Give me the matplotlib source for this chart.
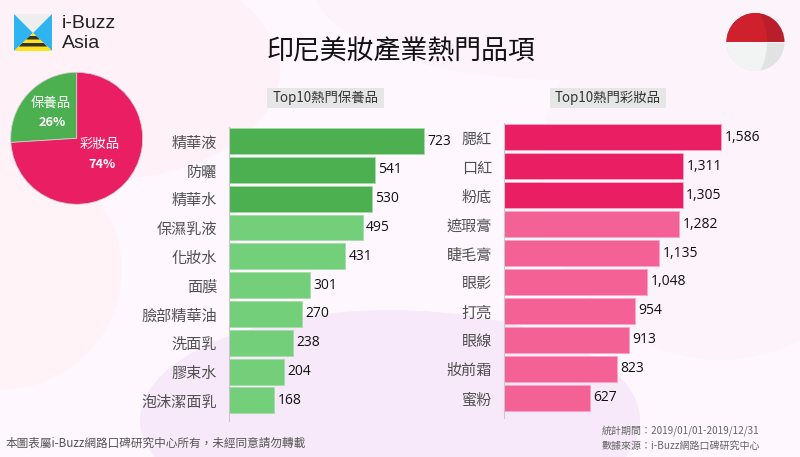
import matplotlib
matplotlib.use('Agg')
import matplotlib.pyplot as plt
from matplotlib.patches import Circle, Ellipse, Polygon, Rectangle, Wedge

plt.rcParams['font.family'] = ['Noto Sans CJK TC', 'DejaVu Sans']

# data
skin_names = ['精華液', '防曬', '精華水', '保濕乳液', '化妝水', '面膜', '臉部精華油', '洗面乳', '膠束水', '泡沫潔面乳']
skin_values = [723, 541, 530, 495, 431, 301, 270, 238, 204, 168]
makeup_names = ['腮紅', '口紅', '粉底', '遮瑕膏', '睫毛膏', '眼影', '打亮', '眼線', '妝前霜', '蜜粉']
makeup_values = [1586, 1311, 1305, 1282, 1135, 1048, 954, 913, 823, 627]
share_names = ['保養品', '彩妝品']
share_values = [26, 74]

GREEN = '#4caf50'
LIGHT_GREEN = '#74cf7a'
PINK = '#e91e63'
LIGHT_PINK = '#f46195'
W, H = 800, 457

fig = plt.figure(figsize=(W / 100, H / 100), dpi=100, facecolor='#fef8fe')


def axes_px(x0, y0, x1, y1, **kw):
    # pixel box with y counted from the top, like the picture
    return fig.add_axes([x0 / W, 1 - y1 / H, (x1 - x0) / W, (y1 - y0) / H], **kw)


def overlay():
    ax = axes_px(0, 0, W, H)
    ax.set_xlim(0, W)
    ax.set_ylim(H, 0)
    ax.axis('off')
    return ax


# background and decoration
bg = overlay()
bg.add_patch(Ellipse((100, 70), 360, 220, color='#fff1f8', lw=0))
bg.add_patch(Ellipse((0, 270), 244, 240, color='#fff3f8', lw=0))
bg.add_patch(Ellipse((560, -20), 500, 200, color='#fdf3fb', lw=0))
bg.add_patch(Ellipse((720, 170), 360, 380, color='#fdf3fb', lw=0))
bg.add_patch(Ellipse((390, 420), 500, 220, color='#f7e9f9', lw=0))

# logo
bg.add_patch(Polygon([(14, 14), (52, 14), (33, 33)], color='#eeeeee', lw=0))
bg.add_patch(Polygon([(14, 14), (33, 33), (14, 51)], color='#2fb4f2', lw=0))
bg.add_patch(Polygon([(52, 14), (33, 33), (52, 51)], color='#2fb4f2', lw=0))
bg.add_patch(Polygon([(14, 51), (33, 33), (52, 51)], color='#ffe21a', lw=0))
bg.add_patch(Polygon([(29.8, 36), (36.2, 36), (39.9, 39.5), (26.1, 39.5)], color='#333333', lw=0))
bg.add_patch(Polygon([(22.5, 43), (43.5, 43), (47.2, 46.5), (18.8, 46.5)], color='#333333', lw=0))
bg.text(62, 23, 'i-Buzz', fontsize=14, color='#222222', va='center', family='Liberation Sans')
bg.text(62, 43, 'Asia', fontsize=14, color='#222222', va='center', family='Liberation Sans')

# flag
clip = Circle((755.5, 42), 29, transform=bg.transData)
for x0, y0, w, h, c in [(726, 12, 60, 30, '#b81f2b'), (726, 42.6, 60, 30, '#e2e2e2')]:
    bg.add_patch(Rectangle((x0, y0), w, h, color=c, lw=0, clip_path=clip))
bg.add_patch(Wedge((703.4, 42), 63.6, 180, 360, color='#cf202e', lw=0, clip_path=clip))
bg.add_patch(Wedge((703.4, 42.6), 63.6, 0, 180, color='#f2f4f4', lw=0, clip_path=clip))

bg.text(401, 52, '印尼美妝產業熱門品項', fontsize=19.4, color='#111111', ha='center', va='center')
bg.add_patch(Rectangle((267, 88), 117, 20, color='#e6e6e6', lw=0))
bg.add_patch(Rectangle((550, 88), 116, 20, color='#e6e6e6', lw=0))
bg.text(325.5, 98, 'Top10熱門保養品', fontsize=9.6, color='#333333', ha='center', va='center')
bg.text(608, 98, 'Top10熱門彩妝品', fontsize=9.6, color='#333333', ha='center', va='center')
bg.text(6, 443, '本圖表屬i-Buzz網路口碑研究中心所有，未經同意請勿轉載', fontsize=8.4, color='#555555', va='center')
bg.text(602, 431, '統計期間：2019/01/01-2019/12/31', fontsize=7.2, color='#666666', va='center')
bg.text(602, 446, '數據來源：i-Buzz網路口碑研究中心', fontsize=7.2, color='#666666', va='center')

# pie
pie_ax = axes_px(10.7, 72.3, 142.7, 204.3)
wedges, _ = pie_ax.pie(share_values, colors=[GREEN, PINK], startangle=90, radius=1,
                       wedgeprops=dict(edgecolor='#cfcfcf', linewidth=0.6))
pie_ax.set_xlim(-1, 1)
pie_ax.set_ylim(-1, 1)
top = overlay()
top.text(51, 103, share_names[0], fontsize=9.6, color='white', ha='center', va='center')
top.text(52, 123, '%d%%' % share_values[0], fontsize=9.2, color='white', ha='center', va='center', weight='bold')
top.text(100, 144, share_names[1], fontsize=9.6, color='white', ha='center', va='center')
top.text(102, 164, '%d%%' % share_values[1], fontsize=9.2, color='white', ha='center', va='center', weight='bold')


def bar_panel(box, names, values, dark, light, n_dark, fmt, edge):
    ax = axes_px(*box)
    ax.patch.set_alpha(0)
    colors = [dark if i < n_dark else light for i in range(len(values))]
    pos = list(range(len(values)))
    ax.barh(pos, values, height=0.9, color=colors, edgecolor=edge, linewidth=0.6, clip_on=False)
    ax.set_xlim(0, max(values))
    ax.set_ylim(9.7, -0.5)
    ax.set_yticks(pos)
    ax.set_yticklabels(names, fontsize=10.9, color='#505050')
    ax.tick_params(axis='y', length=0, pad=8.6)
    ax.set_xticks([])
    for s in ['top', 'right', 'bottom']:
        ax.spines[s].set_visible(False)
    ax.spines['left'].set_color('#c8c8c8')
    for p, v in zip(pos, values):
        ax.annotate(fmt(v), (v, p), xytext=(2.5, 0), textcoords='offset points', fontsize=10,
                    color='#111111', va='center', family='Open Sans', annotation_clip=False)


bar_panel((229, 126.6, 424, 420.6), skin_names, skin_values, GREEN, LIGHT_GREEN, 3, str, '#a5dca8')
bar_panel((504, 123, 721, 417.8), makeup_names, makeup_values, PINK, LIGHT_PINK, 3,
          lambda v: format(v, ','), '#f8a8c4')

fig.savefig('out.png', dpi=100, facecolor=fig.get_facecolor())
